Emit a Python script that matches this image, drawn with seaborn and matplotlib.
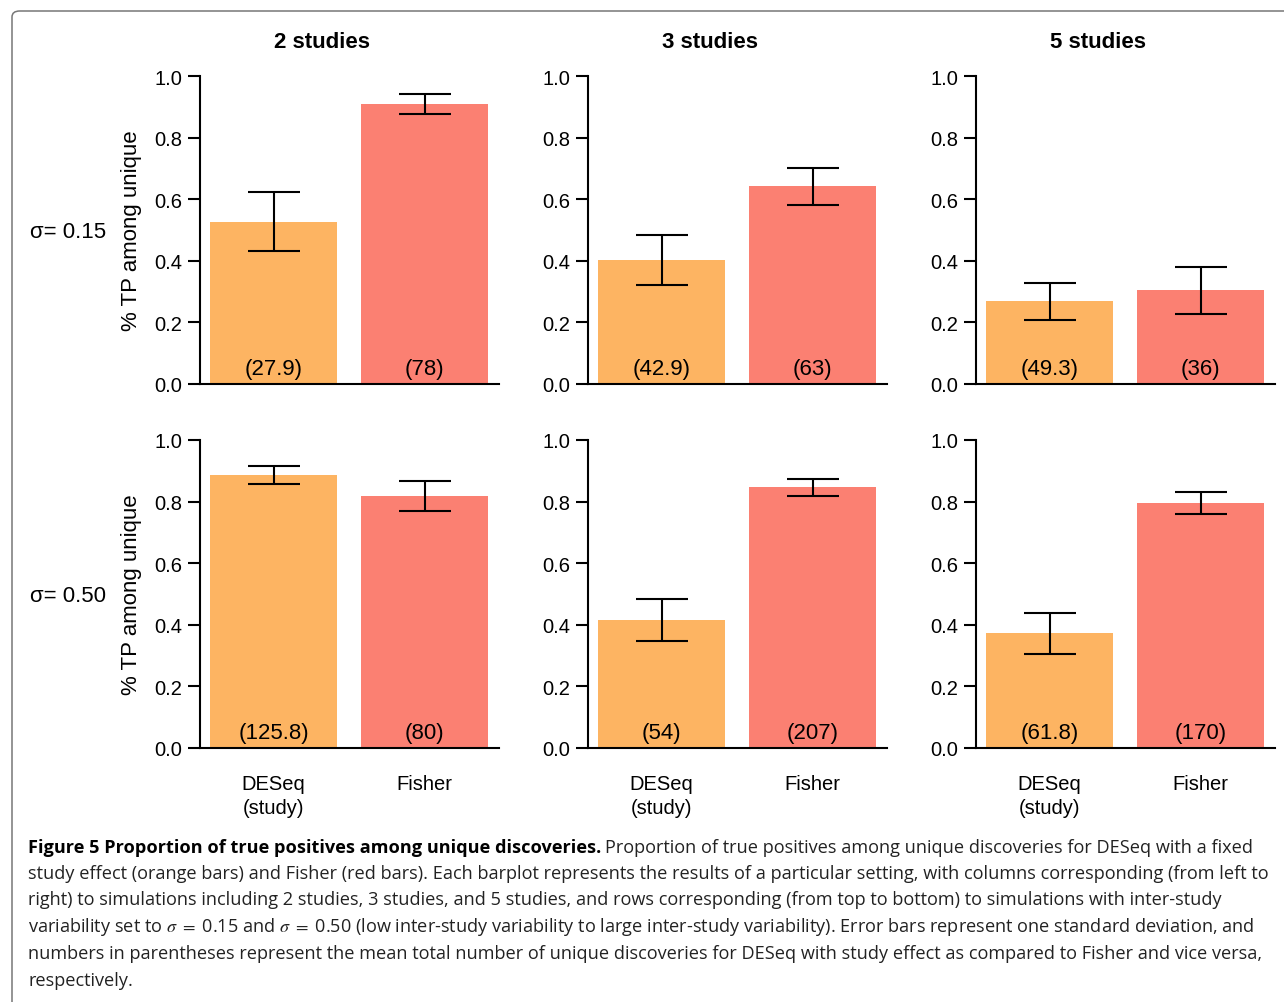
import numpy as np
import pandas as pd
import matplotlib
matplotlib.use("Agg")
import matplotlib.pyplot as plt
from matplotlib import font_manager
from matplotlib.patches import FancyBboxPatch
import seaborn as sns

# ---------------- data ----------------
studies = ["2 studies", "3 studies", "5 studies"]
sigma_labels = ["σ= 0.15", "σ= 0.50"]
methods = ["DESeq\n(study)", "Fisher"]

deseq_mean_s015 = [0.526, 0.402, 0.269]
fisher_mean_s015 = [0.909, 0.642, 0.304]
deseq_mean_s050 = [0.887, 0.417, 0.372]
fisher_mean_s050 = [0.819, 0.847, 0.795]

deseq_lo_s015 = [0.432, 0.322, 0.209]
deseq_hi_s015 = [0.622, 0.484, 0.329]
fisher_lo_s015 = [0.878, 0.581, 0.227]
fisher_hi_s015 = [0.943, 0.702, 0.381]
deseq_lo_s050 = [0.858, 0.346, 0.305]
deseq_hi_s050 = [0.916, 0.485, 0.439]
fisher_lo_s050 = [0.771, 0.819, 0.761]
fisher_hi_s050 = [0.866, 0.875, 0.830]

deseq_n_s015 = [27.9, 42.9, 49.3]
fisher_n_s015 = [78, 63, 36]
deseq_n_s050 = [125.8, 54, 61.8]
fisher_n_s050 = [80, 207, 170]

yticks = [0.0, 0.2, 0.4, 0.6, 0.8, 1.0]
ylabel = "% TP among unique"

caption_bold = "Figure 5 Proportion of true positives among unique discoveries."
caption_lines = [
    "Proportion of true positives among unique discoveries for DESeq with a fixed",
    "study effect (orange bars) and Fisher (red bars). Each barplot represents the results of a particular setting, with columns corresponding (from left to",
    "right) to simulations including 2 studies, 3 studies, and 5 studies, and rows corresponding (from top to bottom) to simulations with inter-study",
    r"variability set to $\sigma\ =\ $0.15 and $\sigma\ =\ $0.50 (low inter-study variability to large inter-study variability). Error bars represent one standard deviation, and",
    "numbers in parentheses represent the mean total number of unique discoveries for DESeq with study effect as compared to Fisher and vice versa,",
    "respectively.",
]

colors = ["#FDB462", "#FB8072"]

rows = [
    dict(mean=(deseq_mean_s015, fisher_mean_s015), lo=(deseq_lo_s015, fisher_lo_s015),
         hi=(deseq_hi_s015, fisher_hi_s015), n=(deseq_n_s015, fisher_n_s015)),
    dict(mean=(deseq_mean_s050, fisher_mean_s050), lo=(deseq_lo_s050, fisher_lo_s050),
         hi=(deseq_hi_s050, fisher_hi_s050), n=(deseq_n_s050, fisher_n_s050)),
]

# ---------------- style ----------------
sns.set_theme(style="ticks")
plt.rcParams["font.family"] = ["Liberation Sans", "DejaVu Sans"]
plt.rcParams["mathtext.fontset"] = "stix"

W, H = 1284, 1003
fig = plt.figure(figsize=(W / 100, H / 100), dpi=100)
fig.patch.set_facecolor("white")

# border
border = FancyBboxPatch((12 / W, -0.05), 1.1, (H - 12) / H + 0.05,
                        boxstyle="round,pad=0,rounding_size=0.006",
                        transform=fig.transFigure, fill=False,
                        edgecolor="#777777", linewidth=1.1, clip_on=False)
fig.patches.append(border)

col_left = [200, 588, 976]
ax_w = 299
row_top = [77, 441]
ax_h = 308

for r, rd in enumerate(rows):
    for c in range(3):
        ax = fig.add_axes([col_left[c] / W, (H - row_top[r] - ax_h) / H, ax_w / W, ax_h / H])
        means = [rd["mean"][0][c], rd["mean"][1][c]]
        los = [rd["lo"][0][c], rd["lo"][1][c]]
        his = [rd["hi"][0][c], rd["hi"][1][c]]
        df = pd.DataFrame({"method": methods, "value": means})
        sns.barplot(data=df, x="method", y="value", hue="method", palette=colors,
                    saturation=1, width=0.84, errorbar=None, legend=False, ax=ax,
                    linewidth=0)
        means_a = np.array(means)
        yerr = np.vstack([means_a - np.array(los), np.array(his) - means_a])
        ax.errorbar(x=[0, 1], y=means_a, yerr=yerr, fmt="none", ecolor="black",
                    elinewidth=1.5, capsize=18.4, capthick=1.5, zorder=5)
        for i in range(2):
            ax.text(i, 0.032, f"({rd['n'][i][c]:g})", ha="center", va="baseline",
                    fontsize=16, color="black", zorder=6)
        ax.set_xlim(-0.487, 1.493)
        ax.set_ylim(0, 1)
        ax.set_yticks(yticks)
        ax.set_yticklabels([f"{t:.1f}" for t in yticks])
        ax.tick_params(axis="y", length=8.6, width=1.5, pad=4.3, labelsize=14.5,
                       direction="out", color="black", labelcolor="black")
        ax.set_xlabel("")
        ax.set_ylabel("")
        if r == 1:
            ax.tick_params(axis="x", length=0, pad=18.5, labelsize=14.5, labelcolor="black")
            ax.set_xticks([0, 1])
            ax.set_xticklabels(methods, linespacing=1.35)
        else:
            ax.set_xticks([0, 1])
            ax.set_xticklabels([])
            ax.tick_params(axis="x", length=0)
        for s in ["top", "right"]:
            ax.spines[s].set_visible(False)
        ax.spines["left"].set_bounds(0, 1)
        ax.spines["left"].set_linewidth(1.5)
        ax.spines["bottom"].set_linewidth(1.5)
        ax.spines["left"].set_color("black")
        ax.spines["bottom"].set_color("black")
        ax.set_facecolor("white")
        if c == 0:
            ax.set_ylabel(ylabel, fontsize=16, color="black")
            ax.yaxis.set_label_coords(-0.195, 0.5)
            fig.text(30 / W, 1 - (row_top[r] + 156) / H, sigma_labels[r], fontsize=16,
                     ha="left", va="center", color="black")
        if r == 0:
            fig.text((col_left[c] + 122) / W, 1 - 42 / H, studies[c], fontsize=16,
                     fontweight="bold", ha="center", va="center", color="black")

# ---------------- caption ----------------
def pick_font(names):
    for nm in names:
        try:
            font_manager.findfont(font_manager.FontProperties(family=nm), fallback_to_default=False)
            return nm
        except Exception:
            continue
    return "DejaVu Sans"

cap_font = pick_font(["Liberation Sans Narrow", "Open Sans", "Liberation Sans"])
cap_fam = [cap_font, "DejaVu Sans"]

x0 = 28
baselines = [853, 879, 905, 932, 959, 986]
right_edges = [1272, 1268, 1232, 1262, 1265, None]
renderer = fig.canvas.get_renderer()

fs0 = 13.0
bold_t = fig.text(x0 / W, 1 - baselines[0] / H, caption_bold, fontsize=fs0, fontweight="bold",
                  family=cap_fam, ha="left", va="baseline", color="black")
rest_t = fig.text(0, 1 - baselines[0] / H, caption_lines[0], fontsize=fs0,
                  family=cap_fam, ha="left", va="baseline", color="#222222")
others = []
for line, yb in zip(caption_lines[1:], baselines[1:]):
    others.append(fig.text(x0 / W, 1 - yb / H, line, fontsize=fs0, family=cap_fam,
                           ha="left", va="baseline", color="#222222"))


def apply(fs):
    bold_t.set_fontsize(fs)
    rest_t.set_fontsize(fs)
    for t in others:
        t.set_fontsize(fs)
    bb = bold_t.get_window_extent(renderer)
    rest_t.set_x((bb.x1 + fs * 0.3) / W)


fs = fs0
for _ in range(3):
    apply(fs)
    ratios = []
    bb = bold_t.get_window_extent(renderer)
    rb = rest_t.get_window_extent(renderer)
    ratios.append((right_edges[0] - x0) / (rb.x1 - bb.x0))
    for t, re_ in zip(others, right_edges[1:]):
        if re_ is None:
            continue
        tb = t.get_window_extent(renderer)
        ratios.append((re_ - x0) / (tb.x1 - tb.x0))
    fs = fs * min(ratios)
apply(fs)

fig.savefig("out.png", dpi=100, facecolor="white")
